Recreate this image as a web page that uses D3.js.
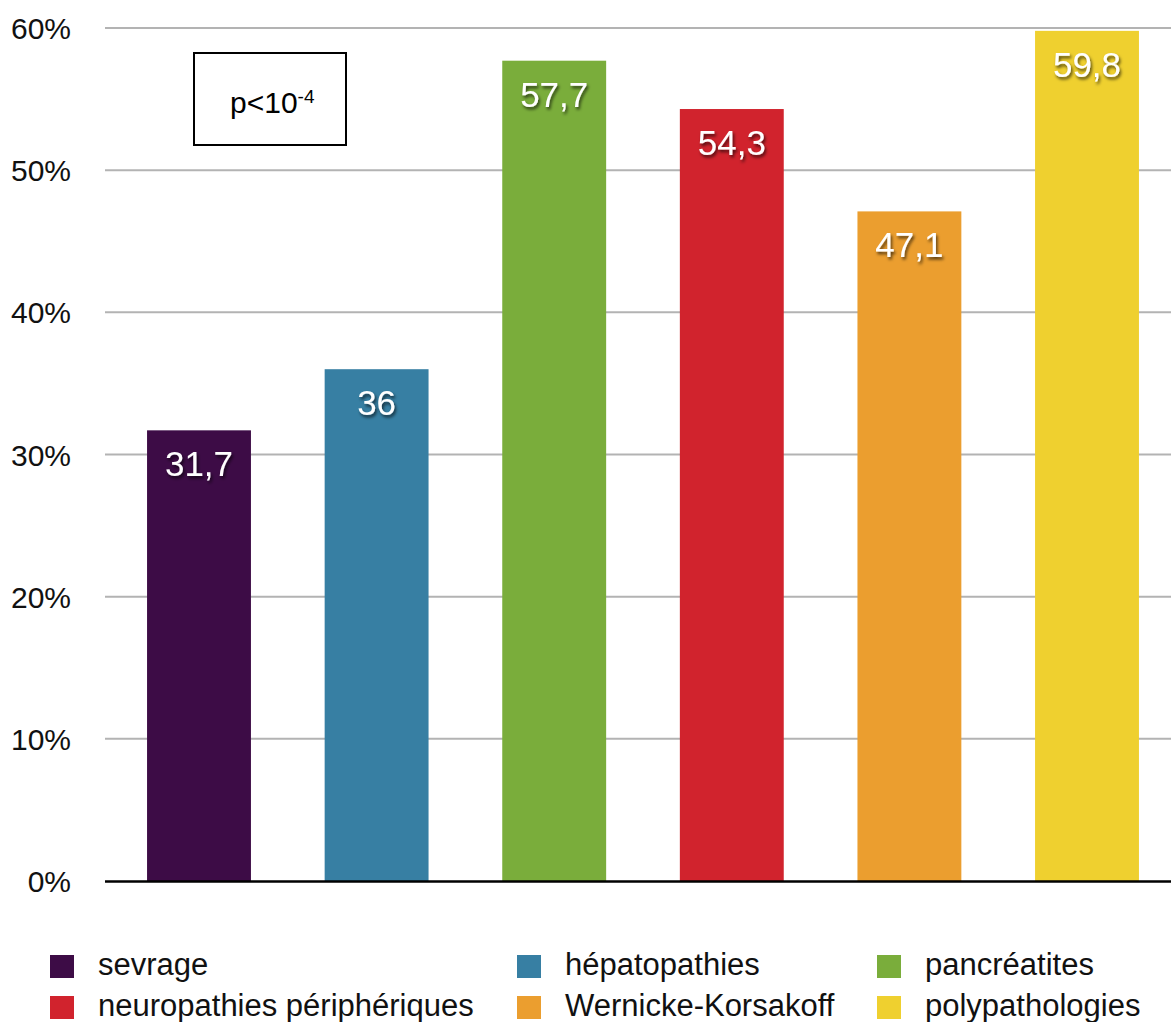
<!DOCTYPE html>
<html>
<head>
<meta charset="utf-8">
<script src="https://cdn.jsdelivr.net/npm/d3@7"></script>
<style>
  html, body { margin: 0; padding: 0; background: #fff; }
  svg { display: block; font-family: "Liberation Sans", Arial, Helvetica, sans-serif; }
</style>
</head>
<body>
<svg id="chart" width="1171" height="1022"></svg>
<script>
// Categories, values (%), colours and axis ticks
const categories = ["sevrage", "hépatopathies", "pancréatites", "neuropathies périphériques", "Wernicke-Korsakoff", "polypathologies"];
const values = [31.7, 36, 57.7, 54.3, 47.1, 59.8];
const valueLabels = ["31,7", "36", "57,7", "54,3", "47,1", "59,8"];
const colors = ["#3d0c46", "#377fa3", "#7aad3b", "#d1232d", "#eb9e2f", "#efd02f"];
const yTicks = [0, 10, 20, 30, 40, 50, 60];

const svg = d3.select("#chart");

// drop shadow used by the white value labels
const defs = svg.append("defs");
const f = defs.append("filter").attr("id", "lblShadow")
  .attr("x", "-20%").attr("y", "-20%").attr("width", "140%").attr("height", "160%");
f.append("feDropShadow").attr("dx", 1.5).attr("dy", 2.5).attr("stdDeviation", 1.6)
  .attr("flood-color", "#000").attr("flood-opacity", 0.65);

const plotLeft = 105, plotRight = 1171;
const y = d3.scaleLinear().domain([0, 60]).range([881, 28]);
const x = d3.scaleBand().domain(categories).range([110.2, 1175.8])
  .paddingInner(0.415).paddingOuter(0.2075);

// horizontal gridlines
svg.append("g").selectAll("line").data(yTicks.filter(d => d > 0)).join("line")
  .attr("x1", plotLeft).attr("x2", plotRight)
  .attr("y1", d => y(d)).attr("y2", d => y(d))
  .attr("stroke", "#b3b3b3").attr("stroke-width", 2);

// y axis labels
svg.append("g").selectAll("text").data(yTicks).join("text")
  .attr("x", 71).attr("y", d => y(d) + 11)
  .attr("text-anchor", "end").attr("font-size", 30).attr("fill", "#111")
  .text(d => d + "%");

// bars
svg.append("g").selectAll("rect").data(values).join("rect")
  .attr("x", (d, i) => x(categories[i]))
  .attr("width", x.bandwidth())
  .attr("y", d => y(d))
  .attr("height", d => y(0) - y(d))
  .attr("fill", (d, i) => colors[i]);

// baseline
svg.append("line").attr("x1", plotLeft).attr("x2", plotRight)
  .attr("y1", y(0) + 0.5).attr("y2", y(0) + 0.5)
  .attr("stroke", "#000").attr("stroke-width", 2.5);

// value labels inside the bars
svg.append("g").selectAll("text").data(values).join("text")
  .attr("x", (d, i) => x(categories[i]) + x.bandwidth() / 2)
  .attr("y", d => y(d) + 46)
  .attr("text-anchor", "middle").attr("font-size", 35).attr("fill", "#fff")
  .attr("filter", "url(#lblShadow)")
  .text((d, i) => valueLabels[i]);

// significance box
const box = svg.append("g");
box.append("rect").attr("x", 194).attr("y", 53).attr("width", 152).attr("height", 92)
  .attr("fill", "#fff").attr("stroke", "#000").attr("stroke-width", 2);
const pt = box.append("text").attr("x", 230).attr("y", 113).attr("font-size", 30).attr("fill", "#000");
pt.append("tspan").text("p<10");
pt.append("tspan").attr("font-size", 19).attr("dy", -10).text("-4");

// legend: 3 columns x 2 rows
const legCols = [50, 517, 877];
const legRows = [966, 1007];
const leg = svg.append("g").selectAll("g").data(categories).join("g")
  .attr("transform", (d, i) => `translate(${legCols[i % 3]},${legRows[Math.floor(i / 3)]})`);
leg.append("rect").attr("x", 0).attr("y", -11).attr("width", 24).attr("height", 23)
  .attr("fill", (d, i) => colors[i]);
leg.append("text").attr("x", 48).attr("y", 9).attr("font-size", 31).attr("fill", "#111")
  .text(d => d);
</script>
</body>
</html>
